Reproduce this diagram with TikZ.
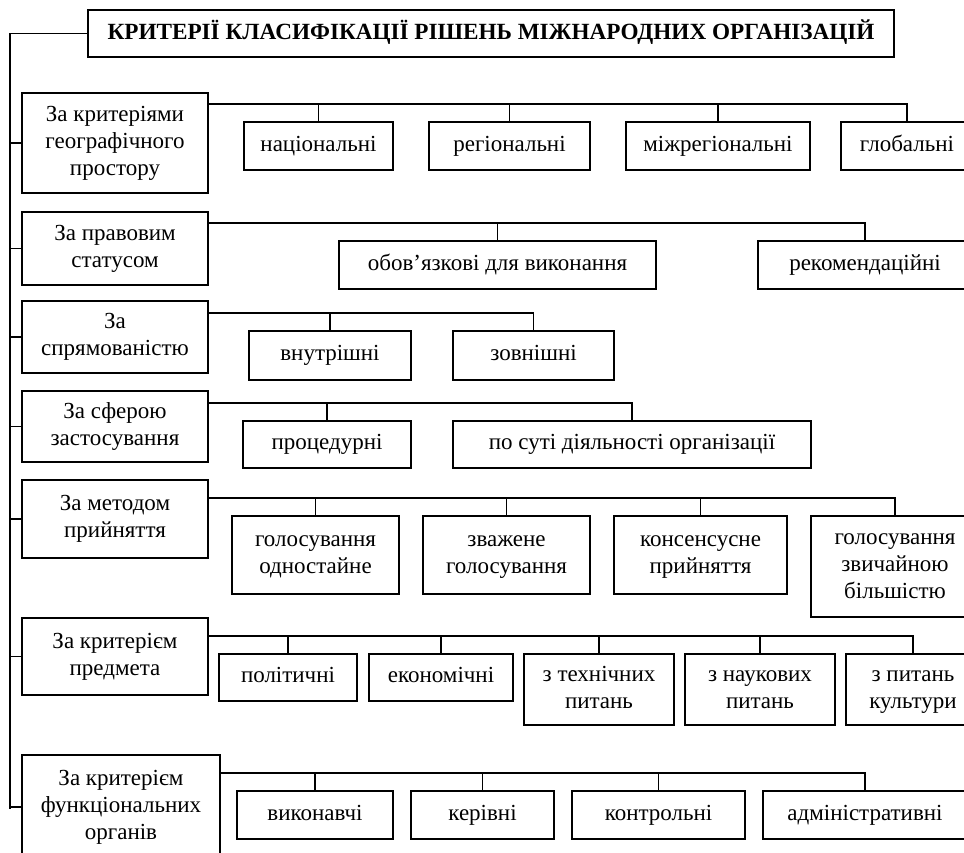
\documentclass[tikz,border=0pt]{standalone}
\usepackage{fontspec}
\setmainfont{Liberation Serif}
\newcommand\bx[6]{\node[box, minimum width={(#4-#2)*1pt}, minimum height={(#5-#3)*1pt}] (#1) at ({(#2+#4)/2},{(#3+#5)/2}) {\strut#6\strut};}
\begin{document}
\begin{tikzpicture}[x=1pt,y=-1pt,
  box/.style={draw, line width=1.4pt, inner sep=0pt, align=center, font=\fontsize{23}{27}\selectfont},
  ttl/.style={box, font=\fontsize{23.2}{27}\selectfont\bfseries},
  ln/.style={line width=1.2pt}]
\useasboundingbox (0,0) rectangle (964,853);
% title
\node[ttl, minimum width=806pt, minimum height=47pt] (title) at (491,33.5) {\strut КРИТЕРІЇ КЛАСИФІКАЦІЇ РІШЕНЬ МІЖНАРОДНИХ ОРГАНІЗАЦІЙ};
% criteria
\bx{c1}{22}{93}{208}{193}{За критеріями\\географічного\\простору}
\bx{c2}{22}{212}{208}{285}{За правовим\\статусом}
\bx{c3}{22}{301}{208}{373}{За\\спрямованістю}
\bx{c4}{22}{391}{208}{462}{За сферою\\застосування}
\bx{c5}{22}{480}{208}{558}{За методом\\прийняття}
\bx{c6}{22}{618}{208}{695}{За критерієм\\предмета}
\bx{c7}{22}{755}{220}{859}{За критерієм\\функціональних\\органів}
% row 1
\bx{a1}{244}{122}{393}{170}{національні}
\bx{a2}{429}{122}{590}{170}{регіональні}
\bx{a3}{626}{122}{810}{170}{міжрегіональні}
\bx{a4}{841}{122}{973}{170}{глобальні}
% row 2
\bx{b1}{339}{241}{656}{289}{обов’язкові для виконання}
\bx{b2}{758}{241}{972}{289}{рекомендаційні}
% row 3
\bx{d1}{249}{331}{411}{380}{внутрішні}
\bx{d2}{453}{331}{614}{380}{зовнішні}
% row 4
\bx{e1}{243}{421}{411}{468}{процедурні}
\bx{e2}{453}{421}{811}{468}{по суті діяльності організації}
% row 5
\bx{f1}{232}{516}{399}{594}{голосування\\одностайне}
\bx{f2}{423}{516}{590}{594}{зважене\\голосування}
\bx{f3}{614}{516}{787}{594}{консенсусне\\прийняття}
\bx{f4}{811}{516}{979}{617}{голосування\\звичайною\\більшістю}
% row 6
\bx{g1}{219}{654}{357}{701}{політичні}
\bx{g2}{369}{654}{513}{701}{економічні}
\bx{g3}{524}{654}{674}{725}{з технічних\\питань}
\bx{g4}{685}{654}{835}{725}{з наукових\\питань}
\bx{g5}{846}{654}{980}{725}{з питань\\культури}
% row 7
\bx{k1}{237}{791}{393}{839}{виконавчі}
\bx{k2}{411}{791}{554}{839}{керівні}
\bx{k3}{572}{791}{745}{839}{контрольні}
\bx{k4}{763}{791}{967}{839}{адміністративні}
% spine
\coordinate (spine) at (10,809);
\draw[ln] (title.west) -| (spine);
\foreach \c in {c1,c2,c3,c4,c5,c6,c7} \draw[ln] (\c.west) -- (\c.west -| spine);
% row lines
\coordinate (h1) at (208,104);
\coordinate (h2) at (208,223);
\coordinate (h3) at (208,313);
\coordinate (h4) at (208,403);
\coordinate (h5) at (208,498);
\coordinate (h6) at (208,636);
\coordinate (h7) at (220,773);
\foreach \n in {a1,a2,a3,a4} \draw[ln] (h1) -| (\n.north);
\foreach \n in {b1,b2} \draw[ln] (h2) -| (\n.north);
\foreach \n in {d1,d2} \draw[ln] (h3) -| (\n.north);
\foreach \n in {e1,e2} \draw[ln] (h4) -| (\n.north);
\foreach \n in {f1,f2,f3,f4} \draw[ln] (h5) -| (\n.north);
\foreach \n in {g1,g2,g3,g4,g5} \draw[ln] (h6) -| (\n.north);
\foreach \n in {k1,k2,k3,k4} \draw[ln] (h7) -| (\n.north);
\end{tikzpicture}
\end{document}
